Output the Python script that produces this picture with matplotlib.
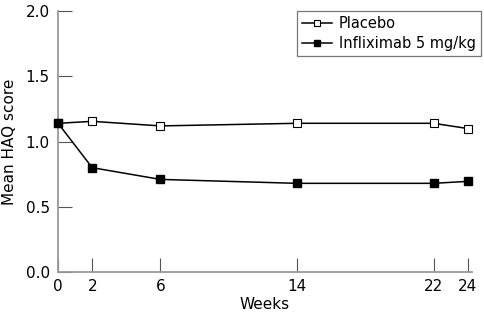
import matplotlib
matplotlib.use("Agg")
import matplotlib.pyplot as plt

weeks = [0, 2, 6, 14, 22, 24]
placebo = [1.14, 1.155, 1.12, 1.14, 1.14, 1.10]
infliximab = [1.14, 0.80, 0.71, 0.68, 0.68, 0.695]
yticks = [0.0, 0.5, 1.0, 1.5, 2.0]

plt.rcParams['font.family'] = ['DejaVu Sans']
plt.rcParams['font.size'] = 11

fig = plt.figure(figsize=(4.84, 3.16), dpi=100)
ax = fig.add_axes([0.12, 0.139, 0.855, 0.826])

ax.plot(weeks, placebo, color='black', lw=1.1, marker='s', markersize=5.5,
        markerfacecolor='white', markeredgecolor='black', markeredgewidth=0.8,
        label='Placebo', clip_on=False, zorder=3)
ax.plot(weeks, infliximab, color='black', lw=1.1, marker='s', markersize=5.5,
        markerfacecolor='black', markeredgecolor='black',
        label='Infliximab 5 mg/kg', clip_on=False, zorder=4)

ax.set_xlim(0, 24.25)
ax.set_ylim(0, 2)
ax.set_xticks(weeks)
ax.set_yticks(yticks)
ax.set_yticklabels([f"{v:.1f}" for v in yticks])

for s in ['top', 'right']:
    ax.spines[s].set_visible(False)
for s in ['left', 'bottom']:
    ax.spines[s].set_color('#999999')
    ax.spines[s].set_linewidth(1.3)
ax.tick_params(axis='x', direction='in', length=10, color='#555555', width=0.8, pad=5)
ax.tick_params(axis='y', direction='in', length=10, color='#555555', width=0.8, pad=6)

ax.set_xlabel('Weeks', labelpad=2)
ax.set_ylabel('Mean HAQ score', labelpad=6)

leg = ax.legend(loc='upper right', bbox_to_anchor=(1.022, 1.0), frameon=True, fancybox=False,
                edgecolor='#555555', handlelength=2.1, borderpad=0.35, labelspacing=0.35,
                handletextpad=0.45, borderaxespad=0.0, fontsize=10.5)
leg.get_frame().set_linewidth(0.9)
for h in leg.legend_handles:
    h.set_markersize(4)

fig.savefig('out.png', dpi=100)
